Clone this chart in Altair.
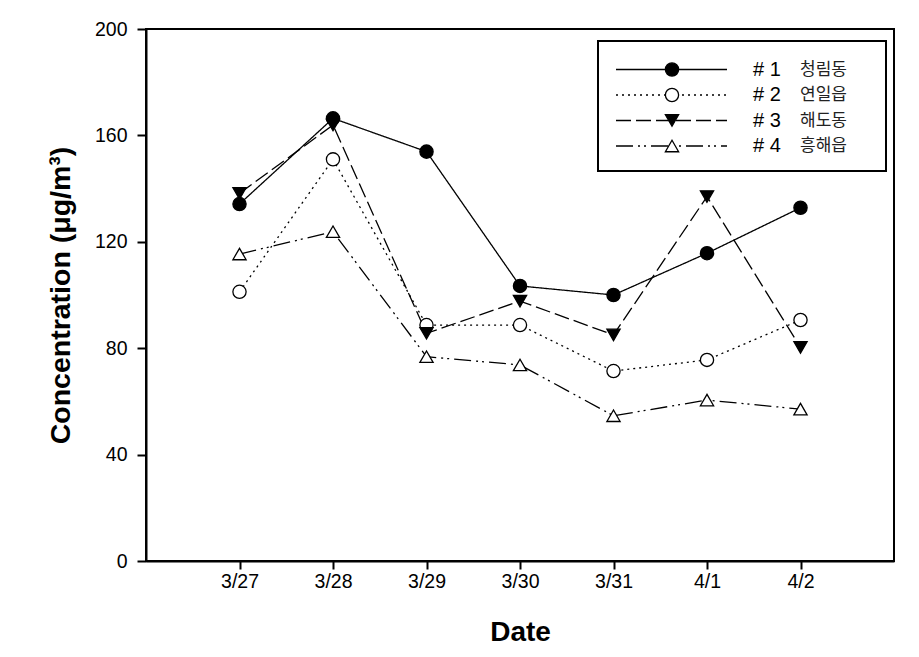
import altair as alt
import pandas as pd

dates = ["3/27", "3/28", "3/29", "3/30", "3/31", "4/1", "4/2"]
series_ids = ["# 1", "# 2", "# 3", "# 4"]
series_names = ["청림동", "연일읍", "해도동", "흥해읍"]
s1 = [134.2, 166.4, 153.9, 103.4, 100.0, 115.7, 132.8]
s2 = [101.2, 151.0, 88.7, 88.7, 71.4, 75.6, 90.6]
s3 = [138.2, 163.9, 85.6, 97.7, 85.0, 137.0, 80.3]
s4 = [115.4, 123.8, 76.8, 73.7, 54.6, 60.5, 57.1]
y_ticks = [0, 40, 80, 120, 160, 200]

values = [s1, s2, s3, s4]
rows = []
for sid, vals in zip(series_ids, values):
    for d, v in zip(dates, vals):
        rows.append({"date": d, "series": sid, "value": v})
df = pd.DataFrame(rows)

dash_range = [[1, 0], [2, 4], [15, 5], [17, 5, 2, 4, 2, 5]]
shape_range = ["circle", "circle", "triangle-down", "triangle-up"]
fill_range = ["black", "white", "black", "white"]

W, H = 748, 532
FONT = "Liberation Sans"
KFONT = "Noto Sans CJK KR"

x_enc = alt.X("date:N", sort=dates, scale=alt.Scale(type="point", padding=1, domain=dates),
              axis=alt.Axis(title="Date", labelAngle=0, labelFontSize=19.5, labelFont=FONT,
                            labelColor="black", tickSize=8, tickWidth=2, tickColor="black",
                            domainWidth=2, domainColor="black", labelPadding=3,
                            titleFont=FONT, titleFontSize=28, titleFontWeight="bold",
                            titleColor="black", titlePadding=28, grid=False))
y_enc = alt.Y("value:Q", scale=alt.Scale(domain=[0, 200], nice=False, zero=True),
              axis=alt.Axis(title="Concentration (μg/m³)", values=y_ticks, labelFontSize=19.5,
                            labelFont=FONT, labelColor="black", tickSize=9, tickWidth=2,
                            tickColor="black", domainWidth=2, domainColor="black",
                            labelPadding=10, titleFont=FONT, titleFontSize=28.5,
                            titleFontWeight="bold", titleColor="black", titlePadding=19,
                            grid=False))

base = alt.Chart(df)
lines = base.mark_line(color="black", strokeWidth=1.3).encode(
    x=x_enc, y=y_enc,
    detail="series:N",
    strokeDash=alt.StrokeDash("series:N", scale=alt.Scale(domain=series_ids, range=dash_range), legend=None),
)
points = base.mark_point(filled=True, stroke="black", strokeWidth=1.3, size=175, opacity=1).encode(
    x=x_enc, y=y_enc,
    shape=alt.Shape("series:N", scale=alt.Scale(domain=series_ids, range=shape_range), legend=None),
    fill=alt.Fill("series:N", scale=alt.Scale(domain=series_ids, range=fill_range), legend=None),
)

# manual legend (pixel positions within plot area)
one = pd.DataFrame({"k": [0]})
box = alt.Chart(one).mark_rect(fill="white", stroke="black", strokeWidth=2).encode(
    x=alt.value(452), x2=alt.value(740), y=alt.value(12), y2=alt.value(142))
legend_layers = [box]
row_y = [40.5, 66, 91.5, 117]
for i, sid in enumerate(series_ids):
    yy = row_y[i]
    legend_layers.append(alt.Chart(one).mark_rule(color="black", strokeWidth=1.3,
                                                  strokeDash=dash_range[i]).encode(
        x=alt.value(470), x2=alt.value(581), y=alt.value(yy)))
    legend_layers.append(alt.Chart(one).mark_point(filled=True, stroke="black", strokeWidth=1.3,
                                                   size=175, opacity=1, shape=shape_range[i],
                                                   fill=fill_range[i]).encode(
        x=alt.value(526), y=alt.value(yy)))
    legend_layers.append(alt.Chart(one).mark_text(text=sid, align="left", baseline="middle",
                                                  font=FONT, fontSize=20, color="black").encode(
        x=alt.value(607), y=alt.value(yy)))
    legend_layers.append(alt.Chart(one).mark_text(text=series_names[i], align="left",
                                                  baseline="middle", font=KFONT, fontSize=17,
                                                  color="#222222").encode(
        x=alt.value(654), y=alt.value(yy)))

chart = alt.layer(lines, points, *legend_layers).properties(
    width=W, height=H,
    autosize=alt.AutoSizeParams(type="none"),
    padding={"left": 138, "top": 21, "right": 17, "bottom": 88},
).configure_view(stroke="black", strokeWidth=2)

chart.save("out.html", embed_options={"renderer": "svg", "actions": False})
